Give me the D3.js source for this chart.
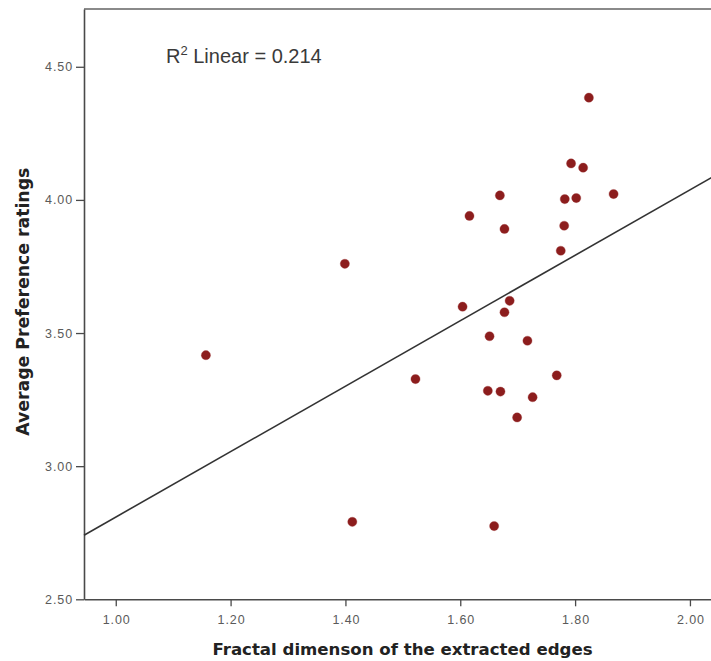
<!DOCTYPE html>
<html>
<head>
<meta charset="utf-8">
<script src="https://cdn.jsdelivr.net/npm/d3@7"></script>
<style>
  html, body { margin: 0; padding: 0; background: #fff; }
  svg { display: block; }
</style>
</head>
<body>
<div id="chart"></div>
<script>
// Fractal dimension of extracted edges (x) vs. average preference rating (y)
const fractalDim = [
  1.157, 1.399, 1.412, 1.522, 1.604, 1.616, 1.648, 1.651, 1.659, 1.669,
  1.670, 1.677, 1.677, 1.686, 1.699, 1.717, 1.726, 1.768, 1.775, 1.781,
  1.782, 1.793, 1.802, 1.814, 1.824, 1.867
];
const preference = [
  3.417, 3.760, 2.791, 3.327, 3.599, 3.940, 3.283, 3.488, 2.775, 4.017,
  3.280, 3.891, 3.578, 3.621, 3.183, 3.471, 3.259, 3.341, 3.809, 3.903,
  4.003, 4.137, 4.007, 4.121, 4.384, 4.022
];
const xTicks = [1.0, 1.2, 1.4, 1.6, 1.8, 2.0];
const yTicks = [2.5, 3.0, 3.5, 4.0, 4.5];
const rSquaredText = "0.214";
const xTitle = "Fractal dimenson of the extracted edges";
const yTitle = "Average Preference ratings";

const W = 711, H = 661;
const plot = { left: 84, right: 714, top: 9, bottom: 599.3 };

const svg = d3.select("#chart").append("svg")
  .attr("width", W).attr("height", H);

const x = d3.scaleLinear().domain([0.9447, 2.0419]).range([plot.left, plot.right]);
const y = d3.scaleLinear().domain([2.5, 4.717]).range([plot.bottom, plot.top]);

// Top frame line
svg.append("line")
  .attr("x1", plot.left).attr("x2", plot.right)
  .attr("y1", plot.top).attr("y2", plot.top)
  .attr("stroke", "#8a8a8a").attr("stroke-width", 2);

// Axes
const tickFont = "'Liberation Sans', Arial, sans-serif";
const xAxis = svg.append("g")
  .attr("transform", `translate(0,${plot.bottom})`)
  .call(d3.axisBottom(x).tickValues(xTicks).tickFormat(d3.format(".2f"))
    .tickSizeInner(7).tickSizeOuter(0).tickPadding(9));
const yAxis = svg.append("g")
  .attr("transform", `translate(${plot.left},0)`)
  .call(d3.axisLeft(y).tickValues(yTicks).tickFormat(d3.format(".2f"))
    .tickSizeInner(8).tickSizeOuter(0).tickPadding(3));

[xAxis, yAxis].forEach(g => {
  g.select(".domain").attr("stroke", "#4a4a4a").attr("stroke-width", 1.6);
  g.selectAll(".tick line").attr("stroke", "#4a4a4a").attr("stroke-width", 1.3);
  g.selectAll(".tick text")
    .attr("fill", "#5a5a5a")
    .style("font-family", tickFont)
    .style("font-size", "12.5px")
    .style("letter-spacing", "0.9px");
});
xAxis.selectAll(".tick text").attr("dx", "0.45px");

// Least-squares fit line through the points
const n = fractalDim.length;
const mx = d3.mean(fractalDim), my = d3.mean(preference);
let sxy = 0, sxx = 0;
for (let i = 0; i < n; i++) {
  sxy += (fractalDim[i] - mx) * (preference[i] - my);
  sxx += (fractalDim[i] - mx) ** 2;
}
const slope = sxy / sxx;
const intercept = my - slope * mx;
const [x0, x1] = x.domain();

svg.append("line")
  .attr("x1", x(x0)).attr("y1", y(intercept + slope * x0))
  .attr("x2", x(x1)).attr("y2", y(intercept + slope * x1))
  .attr("stroke", "#333").attr("stroke-width", 1.6);

// Points
svg.append("g").selectAll("circle")
  .data(d3.zip(fractalDim, preference))
  .join("circle")
  .attr("cx", d => x(d[0]))
  .attr("cy", d => y(d[1]))
  .attr("r", 4.6)
  .attr("fill", "#8c1d1d")
  .attr("stroke", "rgba(160,60,60,0.35)")
  .attr("stroke-width", 1);

// R-squared annotation
const r2 = svg.append("text")
  .attr("x", 166).attr("y", 63)
  .attr("fill", "#3a3a3a")
  .style("font-family", tickFont)
  .style("font-size", "20px");
r2.append("tspan").text("R");
r2.append("tspan").attr("dy", -8).style("font-size", "13px").text("2");
r2.append("tspan").attr("dy", 8).text(" Linear = " + rSquaredText);

// Axis titles
const titleFont = "'DejaVu Sans', Verdana, sans-serif";
svg.append("text")
  .attr("x", 402.5).attr("y", 655)
  .attr("text-anchor", "middle")
  .attr("fill", "#222")
  .style("font-family", titleFont)
  .style("font-weight", "bold")
  .style("font-size", "16.6px")
  .text(xTitle);

svg.append("text")
  .attr("transform", "translate(29,301.7) rotate(-90)")
  .attr("text-anchor", "middle")
  .attr("fill", "#222")
  .style("font-family", titleFont)
  .style("font-weight", "bold")
  .style("font-size", "17.3px")
  .text(yTitle);
</script>
</body>
</html>
